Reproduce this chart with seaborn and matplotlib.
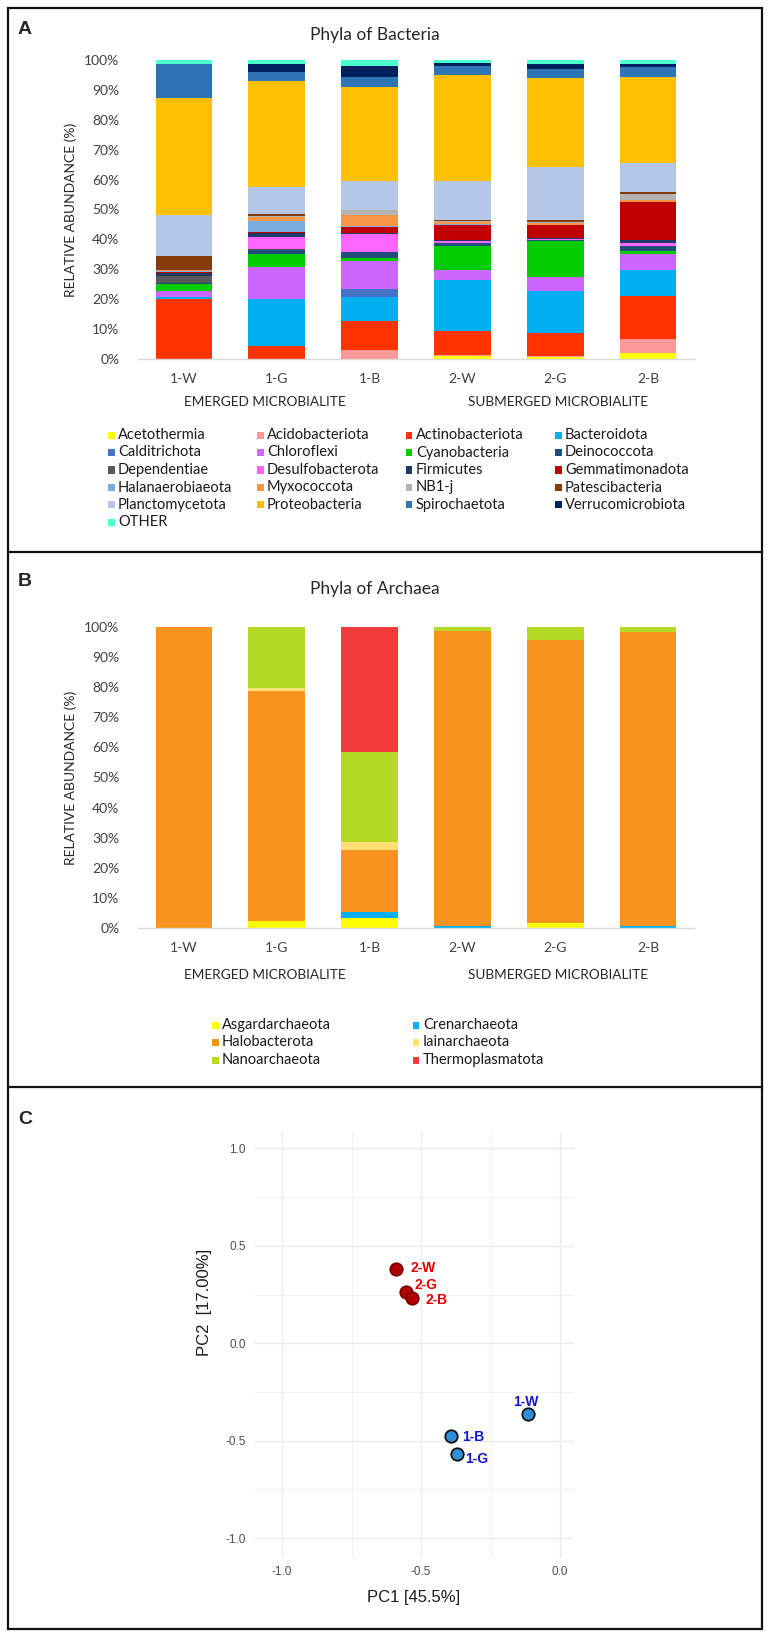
import numpy as np
import pandas as pd
import matplotlib
matplotlib.use("Agg")
import matplotlib.pyplot as plt
from matplotlib.patches import Rectangle
from matplotlib.lines import Line2D
import seaborn as sns

sns.set_theme(style="white")
plt.rcParams['font.family'] = ['Lato', 'DejaVu Sans']
plt.rcParams['axes.unicode_minus'] = False

W, H = 770, 1637

samples = ["1-W", "1-G", "1-B", "2-W", "2-G", "2-B"]

# ---- Panel A: bacterial phyla (% per sample, order 1-W .. 2-B)
acetothermia = [0.0, 0.0, 0.0, 0.9, 0.7, 2.0]
acidobacteriota = [0.0, 0.0, 2.9, 0.5, 0.4, 4.7]
actinobacteriota = [20.0, 4.5, 9.9, 7.8, 7.6, 14.7]
bacteroidota = [0.6, 15.7, 7.9, 17.1, 14.1, 8.8]
calditrichota = [0.0, 0.0, 2.7, 0.0, 0.0, 0.0]
chloroflexi = [2.0, 10.6, 9.4, 3.6, 4.6, 5.2]
cyanobacteria = [2.5, 4.2, 1.1, 7.8, 11.9, 1.1]
deinococcota = [0.4, 1.5, 1.8, 1.1, 0.5, 1.7]
dependentiae = [2.1, 0.3, 0.0, 0.0, 0.0, 0.0]
desulfobacterota = [0.3, 3.9, 6.1, 0.5, 0.5, 0.9]
firmicutes = [1.0, 1.4, 0.5, 0.5, 0.2, 1.0]
gemmatimonadota = [0.3, 0.4, 2.0, 5.0, 4.2, 12.9]
halanaerobiaeota = [0.3, 3.6, 0.2, 0.3, 0.2, 0.1]
myxococcota = [0.3, 1.5, 3.6, 0.6, 0.6, 0.5]
nb1j = [0.1, 0.2, 1.7, 0.4, 0.4, 2.2]
patescibacteria = [4.4, 0.5, 0.2, 0.5, 0.6, 0.7]
planctomycetota = [14.0, 9.1, 9.5, 13.0, 17.6, 9.8]
proteobacteria = [38.9, 35.6, 31.7, 35.5, 29.8, 29.2]
spirochaetota = [11.3, 2.9, 3.3, 2.8, 3.0, 3.4]
verrucomicrobiota = [0.2, 2.7, 3.8, 1.1, 1.9, 0.8]
other = [1.3, 1.3, 1.9, 1.0, 1.2, 1.4]

bac_names = ["Acetothermia", "Acidobacteriota", "Actinobacteriota", "Bacteroidota",
             "Calditrichota", "Chloroflexi", "Cyanobacteria", "Deinococcota",
             "Dependentiae", "Desulfobacterota", "Firmicutes", "Gemmatimonadota",
             "Halanaerobiaeota", "Myxococcota", "NB1-j", "Patescibacteria",
             "Planctomycetota", "Proteobacteria", "Spirochaetota", "Verrucomicrobiota",
             "OTHER"]
bac_values = [acetothermia, acidobacteriota, actinobacteriota, bacteroidota,
              calditrichota, chloroflexi, cyanobacteria, deinococcota,
              dependentiae, desulfobacterota, firmicutes, gemmatimonadota,
              halanaerobiaeota, myxococcota, nb1j, patescibacteria,
              planctomycetota, proteobacteria, spirochaetota, verrucomicrobiota,
              other]
bac_colors = ["#FFFF00", "#FF9999", "#FF3300", "#00B0F0",
              "#4472C4", "#CC66FF", "#00CC00", "#1F4E79",
              "#595959", "#FF66FF", "#203864", "#C00000",
              "#7AADE0", "#F79646", "#B3B3B3", "#843C0C",
              "#B4C7E7", "#FFC000", "#2E75B6", "#002060",
              "#4DFFCC"]

# ---- Panel B: archaeal phyla
asgardarchaeota = [0.0, 2.3, 3.3, 0.0, 1.5, 0.0]
crenarchaeota = [0.0, 0.0, 2.0, 0.5, 0.0, 0.5]
halobacterota = [100.0, 76.5, 20.7, 98.2, 94.1, 97.8]
iainarchaeota = [0.0, 0.9, 2.7, 0.0, 0.0, 0.0]
nanoarchaeota = [0.0, 20.3, 29.8, 1.3, 4.4, 1.7]
thermoplasmatota = [0.0, 0.0, 41.6, 0.0, 0.0, 0.0]

arc_names = ["Asgardarchaeota", "Crenarchaeota", "Halobacterota",
             "Iainarchaeota", "Nanoarchaeota", "Thermoplasmatota"]
arc_values = [asgardarchaeota, crenarchaeota, halobacterota,
              iainarchaeota, nanoarchaeota, thermoplasmatota]
arc_colors = ["#FFFF00", "#00B0F0", "#F7931E", "#FFE070", "#B4DA26", "#F23C3C"]

# ---- Panel C: PCA scores
pc1 = [-0.114, -0.372, -0.393, -0.591, -0.553, -0.532]
pc2 = [-0.364, -0.568, -0.474, 0.379, 0.264, 0.233]
groups = ["emerged", "emerged", "emerged", "submerged", "submerged", "submerged"]
# label offsets from each point, in pixels
label_offsets = [(-2, 12), (9, -5), (11, -1), (15, 1), (8, 7), (13, -2)]


def px_axes(fig, left, top, right, bottom):
    return fig.add_axes([left / W, 1 - bottom / H, (right - left) / W, (bottom - top) / H])


def stacked_bars(ax, names, values, colors):
    table = pd.DataFrame(values, index=names, columns=samples)
    table = table / table.sum(axis=0) * 100
    cum = table.cumsum(axis=0)
    # draw cumulative bars from the top layer down, lower layers overwrite
    for name, col in zip(reversed(names), reversed(colors)):
        sns.barplot(x=samples, y=cum.loc[name].values, color=col, width=0.61,
                    saturation=1, errorbar=None, linewidth=0, ax=ax)
    ax.set_xlim(-0.5, 5.5)
    ax.set_ylim(0, 100)
    ax.set_yticks(range(0, 101, 10))
    ax.set_yticklabels([f"{v}%" for v in range(0, 101, 10)], fontsize=10, color="#404040")
    ax.tick_params(axis="x", labelsize=10, colors="#404040", pad=10, length=0)
    ax.tick_params(axis="y", pad=13, length=0)
    sns.despine(ax=ax, left=True)
    ax.spines["bottom"].set_color("#D9D9D9")
    ax.spines["bottom"].set_linewidth(1.0)
    ax.set_xlabel("")
    ax.set_ylabel("RELATIVE ABUNDANCE (%)", fontsize=10, color="#262626")
    ax.yaxis.set_label_coords(-0.109, 0.5)


def manual_legend(fig, names, colors, ncol, x0, dx, y0, dy):
    for i, (name, col) in enumerate(zip(names, colors)):
        r, c = divmod(i, ncol)
        x, y = x0 + c * dx, y0 + r * dy
        fig.add_artist(Rectangle(((x - 3.5) / W, 1 - (y + 3.5) / H), 7 / W, 7 / H,
                                 transform=fig.transFigure, facecolor=col, edgecolor="none"))
        fig.text((x + 7) / W, 1 - y / H, name, fontsize=10.5, va="center", ha="left",
                 color="#1a1a1a")


fig = plt.figure(figsize=(W / 100, H / 100), dpi=100)
fig.patch.set_facecolor("white")

# ---------------- A
axA = px_axes(fig, 137.6, 60, 694.4, 359)
stacked_bars(axA, bac_names, bac_values, bac_colors)
fig.text(375 / W, 1 - 35 / H, "Phyla of Bacteria", fontsize=12.5, ha="center", va="center")
fig.text(265 / W, 1 - 402 / H, "EMERGED MICROBIALITE", fontsize=9.8, ha="center", va="center")
fig.text(558 / W, 1 - 402 / H, "SUBMERGED MICROBIALITE", fontsize=9.8, ha="center", va="center")
manual_legend(fig, bac_names, bac_colors, 4, 111, 149, 435, 17.5)

# ---------------- B
axB = px_axes(fig, 137.6, 627, 694.4, 928)
stacked_bars(axB, arc_names, arc_values, arc_colors)
fig.text(375 / W, 1 - 589 / H, "Phyla of Archaea", fontsize=12.5, ha="center", va="center")
fig.text(265 / W, 1 - 975 / H, "EMERGED MICROBIALITE", fontsize=9.8, ha="center", va="center")
fig.text(558 / W, 1 - 975 / H, "SUBMERGED MICROBIALITE", fontsize=9.8, ha="center", va="center")
manual_legend(fig, arc_names, arc_colors, 2, 215, 201, 1025, 17.5)

# ---------------- C
axC = px_axes(fig, 254, 1132, 573.6, 1558)
pca = pd.DataFrame({"PC1": pc1, "PC2": pc2, "group": groups, "sample": samples})
styles = {"emerged": ("#2F8FDA", "#111111", "#1414D2"),
          "submerged": ("#B30000", "#7A0000", "#E50000")}
for g, (fc, ec, tc) in styles.items():
    sub = pca[pca["group"] == g]
    sns.scatterplot(data=sub, x="PC1", y="PC2", color=fc, edgecolor=ec, s=80,
                    linewidth=1.3, ax=axC, zorder=3)
for (x, y, g, name), off in zip(pca[["PC1", "PC2", "group", "sample"]].values, label_offsets):
    axC.annotate(name, (x, y), xytext=off, textcoords="offset pixels",
                 color=styles[g][2], fontsize=10, fontweight="bold",
                 family="Liberation Sans", va="center", ha="left" if off[0] > 0 else "center")
axC.set_xlim(-1.101, 0.049)
axC.set_ylim(-1.102, 1.084)
axC.set_xticks([-1.0, -0.5, 0.0])
axC.set_yticks([-1.0, -0.5, 0.0, 0.5, 1.0])
axC.set_xticks([-0.75, -0.25], minor=True)
axC.set_yticks([-0.75, -0.25, 0.25, 0.75], minor=True)
axC.grid(True, which="major", color="#EBEBEB", linewidth=1.0)
axC.grid(True, which="minor", color="#F2F2F2", linewidth=0.7)
axC.set_axisbelow(True)
for s in axC.spines.values():
    s.set_visible(False)
axC.tick_params(which="both", length=0, labelsize=8.5, colors="#4D4D4D", pad=6)
for lab in axC.get_xticklabels() + axC.get_yticklabels():
    lab.set_family("Liberation Sans")
axC.set_xlabel("PC1 [45.5%]", fontsize=12, family="Liberation Sans", color="#1a1a1a")
axC.set_ylabel("PC2  [17.00%]", fontsize=12, family="Liberation Sans", color="#1a1a1a")
axC.xaxis.set_label_coords(0.5, -0.075)
axC.yaxis.set_label_coords(-0.13, 0.6)

# ---------------- frames and panel letters
fig.add_artist(Rectangle((8 / W, 1 - 1629 / H), 754 / W, 1621 / H, transform=fig.transFigure,
                         fill=False, edgecolor="#111111", linewidth=1.6))
for yy in (552, 1087):
    fig.add_artist(Line2D([8 / W, 762 / W], [1 - yy / H, 1 - yy / H], transform=fig.transFigure,
                          color="#111111", linewidth=1.6))
for letter, yy in (("A", 30), ("B", 582), ("C", 1120)):
    fig.text(25 / W, 1 - yy / H, letter, fontsize=14, fontweight="bold", ha="center",
             va="center", family="Liberation Sans")

fig.savefig("out.png", dpi=100, facecolor="white")
